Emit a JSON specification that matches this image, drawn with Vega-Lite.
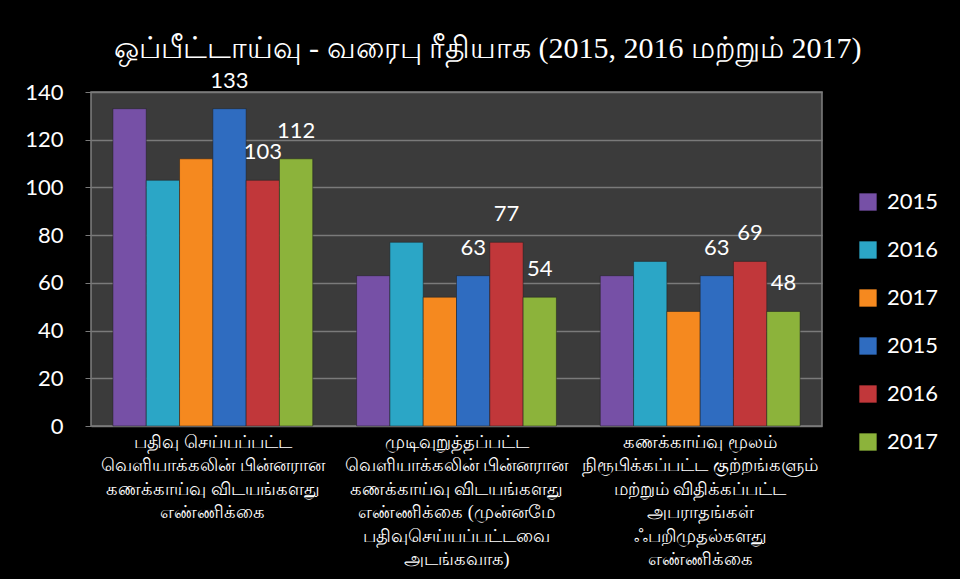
{
  "$schema": "https://vega.github.io/schema/vega-lite/v6.json",
  "width": 731,
  "height": 334,
  "autosize": {"type": "none"},
  "padding": {"left": 91, "top": 92, "right": 138, "bottom": 153},
  "background": "#000000",
  "title": {
    "text": "ஒப்பீட்டாய்வு - வரைபு ரீதியாக (2015, 2016 மற்றும் 2017)",
    "font": "Liberation Serif",
    "fontSize": 30,
    "fontWeight": "normal",
    "color": "#ffffff",
    "anchor": "middle",
    "dx": 31,
    "offset": 6
  },
  "data": {
    "values": [
      {"cat": "பதிவு செய்யப்பட்ட|வெளியாக்கலின் பின்னரான|கணக்காய்வு விடயங்களது|எண்ணிக்கை", "series": "2015-1", "value": 133},
      {"cat": "பதிவு செய்யப்பட்ட|வெளியாக்கலின் பின்னரான|கணக்காய்வு விடயங்களது|எண்ணிக்கை", "series": "2016-1", "value": 103},
      {"cat": "பதிவு செய்யப்பட்ட|வெளியாக்கலின் பின்னரான|கணக்காய்வு விடயங்களது|எண்ணிக்கை", "series": "2017-1", "value": 112},
      {"cat": "பதிவு செய்யப்பட்ட|வெளியாக்கலின் பின்னரான|கணக்காய்வு விடயங்களது|எண்ணிக்கை", "series": "2015-2", "value": 133},
      {"cat": "பதிவு செய்யப்பட்ட|வெளியாக்கலின் பின்னரான|கணக்காய்வு விடயங்களது|எண்ணிக்கை", "series": "2016-2", "value": 103},
      {"cat": "பதிவு செய்யப்பட்ட|வெளியாக்கலின் பின்னரான|கணக்காய்வு விடயங்களது|எண்ணிக்கை", "series": "2017-2", "value": 112},
      {"cat": "முடிவுறுத்தப்பட்ட|வெளியாக்கலின் பின்னரான|கணக்காய்வு விடயங்களது|எண்ணிக்கை (முன்னமே|பதிவுசெய்யப்பட்டவை|அடங்கவாக)", "series": "2015-1", "value": 63},
      {"cat": "முடிவுறுத்தப்பட்ட|வெளியாக்கலின் பின்னரான|கணக்காய்வு விடயங்களது|எண்ணிக்கை (முன்னமே|பதிவுசெய்யப்பட்டவை|அடங்கவாக)", "series": "2016-1", "value": 77},
      {"cat": "முடிவுறுத்தப்பட்ட|வெளியாக்கலின் பின்னரான|கணக்காய்வு விடயங்களது|எண்ணிக்கை (முன்னமே|பதிவுசெய்யப்பட்டவை|அடங்கவாக)", "series": "2017-1", "value": 54},
      {"cat": "முடிவுறுத்தப்பட்ட|வெளியாக்கலின் பின்னரான|கணக்காய்வு விடயங்களது|எண்ணிக்கை (முன்னமே|பதிவுசெய்யப்பட்டவை|அடங்கவாக)", "series": "2015-2", "value": 63},
      {"cat": "முடிவுறுத்தப்பட்ட|வெளியாக்கலின் பின்னரான|கணக்காய்வு விடயங்களது|எண்ணிக்கை (முன்னமே|பதிவுசெய்யப்பட்டவை|அடங்கவாக)", "series": "2016-2", "value": 77},
      {"cat": "முடிவுறுத்தப்பட்ட|வெளியாக்கலின் பின்னரான|கணக்காய்வு விடயங்களது|எண்ணிக்கை (முன்னமே|பதிவுசெய்யப்பட்டவை|அடங்கவாக)", "series": "2017-2", "value": 54},
      {"cat": "கணக்காய்வு மூலம்|நிரூபிக்கப்பட்ட குற்றங்களும்|மற்றும் விதிக்கப்பட்ட|அபராதங்கள்|ஃபறிமுதல்களது|எண்ணிக்கை", "series": "2015-1", "value": 63},
      {"cat": "கணக்காய்வு மூலம்|நிரூபிக்கப்பட்ட குற்றங்களும்|மற்றும் விதிக்கப்பட்ட|அபராதங்கள்|ஃபறிமுதல்களது|எண்ணிக்கை", "series": "2016-1", "value": 69},
      {"cat": "கணக்காய்வு மூலம்|நிரூபிக்கப்பட்ட குற்றங்களும்|மற்றும் விதிக்கப்பட்ட|அபராதங்கள்|ஃபறிமுதல்களது|எண்ணிக்கை", "series": "2017-1", "value": 48},
      {"cat": "கணக்காய்வு மூலம்|நிரூபிக்கப்பட்ட குற்றங்களும்|மற்றும் விதிக்கப்பட்ட|அபராதங்கள்|ஃபறிமுதல்களது|எண்ணிக்கை", "series": "2015-2", "value": 63},
      {"cat": "கணக்காய்வு மூலம்|நிரூபிக்கப்பட்ட குற்றங்களும்|மற்றும் விதிக்கப்பட்ட|அபராதங்கள்|ஃபறிமுதல்களது|எண்ணிக்கை", "series": "2016-2", "value": 69},
      {"cat": "கணக்காய்வு மூலம்|நிரூபிக்கப்பட்ட குற்றங்களும்|மற்றும் விதிக்கப்பட்ட|அபராதங்கள்|ஃபறிமுதல்களது|எண்ணிக்கை", "series": "2017-2", "value": 48}
    ]
  },
  "encoding": {
    "x": {
      "field": "cat",
      "type": "nominal",
      "sort": null,
      "scale": {"paddingInner": 0.18, "paddingOuter": 0.09},
      "axis": {
        "title": null,
        "labelAngle": 0,
        "labelExpr": "split(datum.value, '|')",
        "labelFont": "Liberation Serif",
        "labelFontSize": 18,
        "labelColor": "#ffffff",
        "labelLineHeight": 23.5,
        "labelBaseline": "top",
        "labelPadding": 7,
        "labelLimit": 0,
        "ticks": false,
        "domain": false
      }
    },
    "xOffset": {"field": "series", "type": "nominal", "sort": null, "scale": {"paddingInner": 0, "paddingOuter": 0}},
    "y": {
      "field": "value",
      "type": "quantitative",
      "scale": {"domain": [0, 140]},
      "axis": {
        "title": null,
        "values": [0, 20, 40, 60, 80, 100, 120, 140],
        "labelFont": "Lato",
        "labelFontSize": 22,
        "labelColor": "#ffffff",
        "labelPadding": 22,
        "grid": true,
        "gridColor": "#7a7a7a",
        "gridWidth": 1.5,
        "ticks": true,
        "tickSize": 6,
        "tickColor": "#7a7a7a",
        "domain": false
      }
    }
  },
  "layer": [
    {
      "mark": {"type": "bar", "stroke": "#1e1e1e", "strokeWidth": 0.5},
      "encoding": {
        "color": {
          "field": "series",
          "type": "nominal",
          "sort": null,
          "scale": {
            "domain": ["2015-1", "2016-1", "2017-1", "2015-2", "2016-2", "2017-2"],
            "range": ["#7650a6", "#2ba6c6", "#f5891f", "#2f6cc0", "#c1373a", "#8cb33b"]
          },
          "legend": {
            "title": null,
            "orient": "none",
            "legendX": 766,
            "legendY": 99,
            "labelExpr": "slice(datum.value, 0, 4)",
            "labelFont": "Lato",
            "labelFontSize": 22,
            "labelColor": "#ffffff",
            "symbolType": "square",
            "symbolSize": 300,
            "symbolStrokeWidth": 0,
            "rowPadding": 26,
            "labelOffset": 8
          }
        }
      }
    },
    {
      "transform": [{"filter": "indexof(['2015-2','2016-2','2017-2'], datum.series) >= 0"}],
      "mark": {"type": "text", "dy": -28, "font": "Lato", "fontSize": 22, "color": "#ffffff", "baseline": "middle"},
      "encoding": {"text": {"field": "value", "type": "quantitative"}}
    }
  ],
  "config": {
    "view": {"fill": "#3b3b3b", "stroke": "#808080", "strokeWidth": 1.5}
  }
}
